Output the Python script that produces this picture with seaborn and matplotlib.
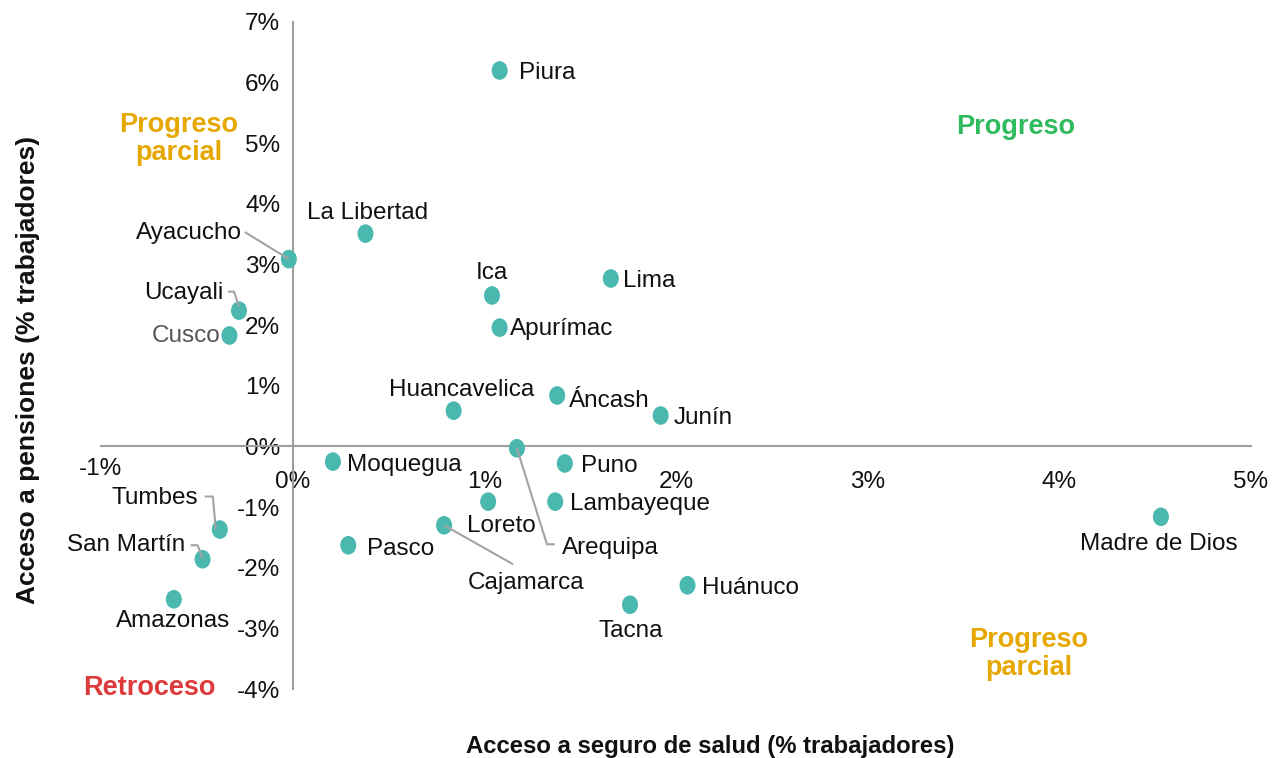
import numpy as np
import pandas as pd
import matplotlib
matplotlib.use("Agg")
import matplotlib.pyplot as plt
import seaborn as sns
from matplotlib.path import Path
from matplotlib.transforms import Affine2D, ScaledTranslation

# ---------------- data ----------------
regions = ["Piura", "La Libertad", "Ayacucho", "Ucayali", "Cusco", "Ica", "Lima",
           "Apurímac", "Huancavelica", "Áncash", "Junín", "Arequipa", "Moquegua",
           "Puno", "Loreto", "Lambayeque", "Cajamarca", "Pasco", "Tumbes",
           "San Martín", "Amazonas", "Madre de Dios", "Huánuco", "Tacna"]
salud = [1.08, 0.38, -0.02, -0.28, -0.33, 1.04, 1.66,
         1.08, 0.84, 1.38, 1.92, 1.17, 0.21,
         1.42, 1.02, 1.37, 0.79, 0.29, -0.38,
         -0.47, -0.62, 4.53, 2.06, 1.76]
pensiones = [6.20, 3.51, 3.09, 2.24, 1.83, 2.49, 2.77,
             1.96, 0.59, 0.84, 0.51, -0.03, -0.25,
             -0.28, -0.91, -0.91, -1.30, -1.63, -1.37,
             -1.86, -2.52, -1.16, -2.29, -2.61]
x_ticks = [-1, 0, 1, 2, 3, 4, 5]
y_ticks = [-4, -3, -2, -1, 0, 1, 2, 3, 4, 5, 6, 7]
quadrants = ["Progreso\nparcial", "Progreso", "Progreso\nparcial", "Retroceso"]

df = pd.DataFrame({"region": regions, "salud": salud, "pensiones": pensiones})

# ---------------- style ----------------
sns.set_theme(style="white")
plt.rcParams["font.family"] = ["Liberation Sans", "DejaVu Sans"]

TEAL = "#4AB8AF"
GREY = "#A3A3A3"
ORANGE = "#E6A700"
GREEN = "#2EBB5E"
RED = "#DD3B3B"

W, H = 1282, 758
fig = plt.figure(figsize=(W / 100, H / 100), dpi=100)
ax = fig.add_axes([101 / W, 1 - 689 / H, (1251 - 101) / W, (689 - 22) / H])
ax.set_xlim(-1, 5)
ax.set_ylim(-4, 7)

ell = Path.unit_circle().transformed(Affine2D().scale(0.86, 1.0))
sns.scatterplot(data=df, x="salud", y="pensiones", ax=ax, marker=ell, s=180,
                color=TEAL, edgecolor="none", linewidth=0, zorder=3, legend=False)

# spines crossing at origin
for s in ["top", "right"]:
    ax.spines[s].set_visible(False)
ax.spines["left"].set_position(("data", 0))
ax.spines["bottom"].set_position(("data", 0))
for s in ["left", "bottom"]:
    ax.spines[s].set_color("#9E9E9E")
    ax.spines[s].set_linewidth(1.5)

ax.set_xticks(x_ticks)
ax.set_yticks(y_ticks)
ax.set_xticklabels([f"{v}%" for v in x_ticks])
ax.set_yticklabels([f"{v}%" for v in y_ticks])
ax.tick_params(axis="x", direction="in", length=7, width=1.3, color="#9E9E9E",
               pad=18, labelsize=17.5, labelcolor="#111111")
ax.tick_params(axis="y", direction="out", length=6, width=1.3, color="#9E9E9E",
               pad=3, labelsize=17.5, labelcolor="#111111")
ax.set_xlabel("")
ax.set_ylabel("")
# raise the "-1%" label slightly as in the reference
lab0 = ax.get_xticklabels()[0]
lab0.set_transform(lab0.get_transform() + ScaledTranslation(0, 13 / 100, fig.dpi_scale_trans))

# label placement (pixel offsets, y up), ha
place = {
    "Piura": (19, -2, "left"), "La Libertad": (2, 21, "center"),
    "Ayacucho": (-47, 26, "right"), "Ucayali": (-16, 18, "right"),
    "Cusco": (-9, -1, "right"), "Ica": (0, 22, "center"), "Lima": (12, -3, "left"),
    "Apurímac": (10, -1, "left"), "Huancavelica": (8, 21, "center"),
    "Áncash": (12, -5, "left"), "Junín": (13, -2, "left"),
    "Arequipa": (45, -100, "left"), "Moquegua": (14, -3, "left"),
    "Puno": (16, -3, "left"), "Loreto": (13, -24, "center"),
    "Lambayeque": (15, -2, "left"), "Cajamarca": (82, -58, "center"),
    "Pasco": (19, -4, "left"), "Tumbes": (-22, 32, "right"),
    "San Martín": (-17, 14, "right"), "Amazonas": (-1, -22, "center"),
    "Madre de Dios": (-2, -27, "center"), "Huánuco": (15, -3, "left"),
    "Tacna": (1, -26, "center"),
}
leaders = {
    "Ayacucho": [(-44, 27), (0, 0)],
    "Ucayali": [(-11, 19), (-5, 19), (0, 4)],
    "Tumbes": [(-15, 33), (-7, 33), (-4, 0)],
    "San Martín": [(-12, 14), (-5, 14), (0, 1)],
    "Cajamarca": [(69, -39), (0, 0)],
    "Arequipa": [(38, -96), (30, -96), (0, 0)],
}

for r, xv, yv in zip(regions, salud, pensiones):
    dx, dy, ha = place[r]
    ax.annotate(r, (xv, yv), xytext=(dx, dy), textcoords="offset pixels",
                ha=ha, va="center", fontsize=17.5,
                color="#555555" if r == "Cusco" else "#111111", zorder=5)
    if r in leaders:
        px, py = ax.transData.transform((xv, yv))
        pts = np.array([(px + a, py + b) for a, b in leaders[r]])
        dpts = ax.transData.inverted().transform(pts)
        ax.plot(dpts[:, 0], dpts[:, 1], color=GREY, lw=1.5, zorder=4,
                solid_capstyle="butt")

# quadrant labels
qpos = [(-0.595, 5.07, ORANGE), (3.77, 5.27, GREEN), (3.84, -3.42, ORANGE), (-0.75, -3.99, RED)]
for q, (qx, qy, c) in zip(quadrants, qpos):
    ax.text(qx, qy, q, color=c, fontsize=19.5, fontweight="bold", ha="center",
            va="center", linespacing=1.12, multialignment="center")

fig.text(710 / W, 1 - 746 / H, "Acceso a seguro de salud (% trabajadores)",
         ha="center", va="center", fontsize=17.2, fontweight="bold", color="#111111")
fig.text(28 / W, 1 - 370 / H, "Acceso a pensiones (% trabajadores)", rotation=90,
         ha="center", va="center", fontsize=19, fontweight="bold", color="#111111")

fig.savefig("out.png", dpi=100)
